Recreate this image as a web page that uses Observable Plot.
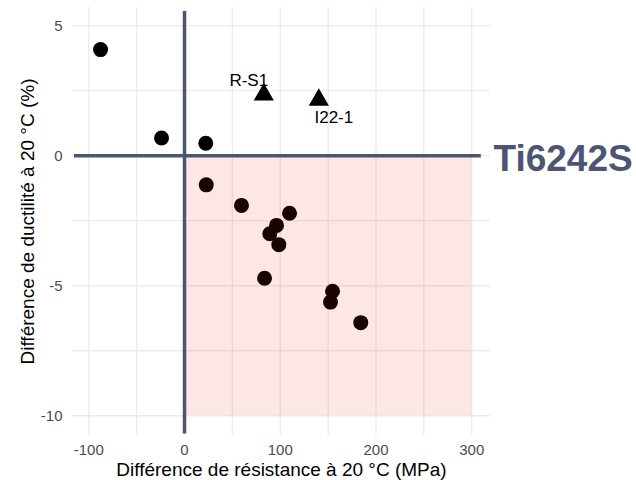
<!DOCTYPE html>
<html>
<head>
<meta charset="utf-8">
<script src="https://cdn.jsdelivr.net/npm/d3@7"></script>
<script src="https://cdn.jsdelivr.net/npm/@observablehq/plot@0.6"></script>
<style>
  html, body { margin: 0; padding: 0; background: #fff; }
  #chart { width: 636px; height: 480px; }
</style>
</head>
<body>
<div id="chart"></div>
<script>
// Data
const circleStrength = [-87.7, -24.0, 22.2, 22.7, 59.5, 109.7, 96.1, 89.1, 98.5, 83.6, 154.6, 152.5, 184.1];
const circleDuctility = [4.08, 0.68, 0.48, -1.12, -1.91, -2.21, -2.68, -3.0, -3.42, -4.71, -5.21, -5.63, -6.42];
const triangleNames = ["R-S1", "I22-1"];
const triangleStrength = [82.8, 140.3];
const triangleDuctility = [2.35, 2.15];
const xTicks = [-100, 0, 100, 200, 300];
const yTicks = [-10, -5, 0, 5];
const xGrid = [-100, -50, 0, 50, 100, 150, 200, 250, 300];
const yGrid = [-10, -7.5, -5, -2.5, 0, 2.5, 5];
const zoneLabel = "Ti6242S";
const xTitle = "Différence de résistance à 20 °C (MPa)";
const yTitle = "Différence de ductilité à 20 °C (%)";

const circles = circleStrength.map((x, i) => ({x, y: circleDuctility[i]}));
const triangles = triangleNames.map((name, i) => ({name, x: triangleStrength[i], y: triangleDuctility[i]}));

const accent = "#4d5574";

const chart = Plot.plot({
  width: 636,
  height: 480,
  marginLeft: 72,
  marginRight: 146,
  marginTop: 7,
  marginBottom: 45,
  style: {fontFamily: "'Liberation Sans', Arial, sans-serif", background: "#fff", overflow: "visible"},
  x: {domain: [-117, 319.6]},
  y: {domain: [-10.76, 5.70]},
  marks: [
    Plot.gridX(xGrid, {stroke: "#ebebeb", strokeOpacity: 1, strokeWidth: 1.3}),
    Plot.gridY(yGrid, {stroke: "#ebebeb", strokeOpacity: 1, strokeWidth: 1.3}),
    Plot.axisX(xTicks, {tickSize: 0, tickPadding: 9, fontSize: 15, fill: "#4d4d4d", label: null, tickFormat: d => `${d}`}),
    Plot.axisY(yTicks, {tickSize: 0, tickPadding: 10, fontSize: 15, fill: "#4d4d4d", label: null, tickFormat: d => `${d}`}),
    Plot.dot(circles, {x: "x", y: "y", r: 7.5, fill: "black", stroke: null}),
    Plot.dot(triangles, {x: "x", y: "y", r: 7.5, symbol: "triangle", fill: "black", stroke: null}),
    Plot.rect([{x1: 0, x2: 300, y1: -10, y2: 0}], {x1: "x1", x2: "x2", y1: "y1", y2: "y2", fill: "#e31a1c", fillOpacity: 0.11}),
    Plot.ruleX([0], {y1: -10.7, y2: 5.55, stroke: accent, strokeWidth: 3.5}),
    Plot.ruleY([0], {x1: -115, x2: 310, stroke: accent, strokeWidth: 3.5}),
    Plot.text(triangles.slice(0, 1), {x: "x", y: "y", text: "name", dx: -15, dy: -14, fontSize: 17, fill: "black"}),
    Plot.text(triangles.slice(1), {x: "x", y: "y", text: "name", dx: 15, dy: 18, fontSize: 17, fill: "black"}),
    Plot.text([zoneLabel], {x: 319.6, y: 0, text: d => d, textAnchor: "start", dx: 3, dy: 3, fontSize: 37, fontWeight: "bold", fill: accent, clip: false}),
    Plot.text([xTitle], {frameAnchor: "bottom", text: d => d, dy: 34, textAnchor: "middle", lineAnchor: "middle", fontSize: 19, fill: "black"}),
    Plot.text([yTitle], {frameAnchor: "left", text: d => d, dx: -45, rotate: -90, textAnchor: "middle", lineAnchor: "middle", fontSize: 19, fill: "black"})
  ]
});
document.getElementById("chart").appendChild(chart);
</script>
</body>
</html>
